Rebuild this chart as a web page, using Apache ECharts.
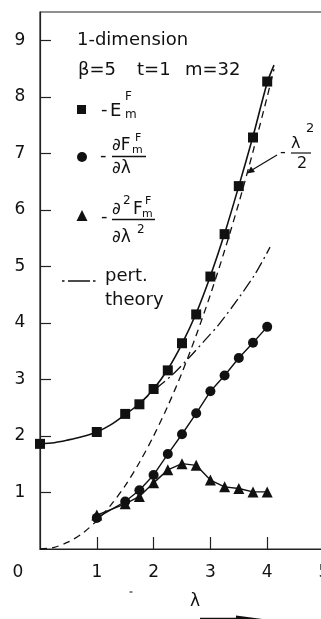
<!DOCTYPE html>
<html><head><meta charset="utf-8">
<script src="https://cdn.jsdelivr.net/npm/echarts@6/dist/echarts.min.js"></script>
<style>html,body{margin:0;padding:0;background:#fff}#c{width:321px;height:619px}</style>
</head><body><div id="c"></div>
<script>
const xTicks = [1, 2, 3, 4, 5];
const yTicks = [1, 2, 3, 4, 5, 6, 7, 8, 9];
// -E_m^F (squares)
const sqX = [0, 1, 1.5, 1.75, 2, 2.25, 2.5, 2.75, 3, 3.25, 3.5, 3.75, 4];
const sqY = [1.86, 2.07, 2.39, 2.56, 2.83, 3.16, 3.64, 4.15, 4.82, 5.57, 6.42, 7.28, 8.27];
// solid curve through the squares
const sqCurveX = [0, 0.25, 0.5, 0.75, 1, 1.25, 1.5, 1.75, 2, 2.25, 2.5, 2.75, 3, 3.25, 3.5, 3.75, 4, 4.12];
const sqCurveY = [1.86, 1.88, 1.93, 1.99, 2.07, 2.20, 2.38, 2.57, 2.83, 3.18, 3.63, 4.17, 4.83, 5.58, 6.42, 7.30, 8.25, 8.56];
// -dF/dlambda (circles)
const circX = [1, 1.5, 1.75, 2, 2.25, 2.5, 2.75, 3, 3.25, 3.5, 3.75, 4];
const circY = [0.55, 0.84, 1.04, 1.31, 1.68, 2.03, 2.40, 2.79, 3.07, 3.38, 3.65, 3.93];
// -d2F/dlambda2 (triangles)
const triX = [1, 1.5, 1.75, 2, 2.25, 2.5, 2.75, 3, 3.25, 3.5, 3.75, 4];
const triY = [0.60, 0.80, 0.93, 1.17, 1.40, 1.51, 1.48, 1.22, 1.10, 1.07, 1.01, 1.01];
// lambda^2/2 dashed curve
const halfX = [0, 0.25, 0.5, 0.75, 1, 1.25, 1.5, 1.75, 2, 2.25, 2.5, 2.75, 3, 3.25, 3.5, 3.75, 4, 4.12];
const halfY = [0, 0.03, 0.125, 0.28, 0.5, 0.78, 1.12, 1.53, 2, 2.53, 3.12, 3.78, 4.5, 5.28, 6.12, 7.03, 8, 8.49];
// perturbation theory (dash-dot)
const pertX = [1.75, 1.99, 2.35, 2.64, 2.9, 3.14, 3.49, 3.79, 4.05];
const pertY = [2.57, 2.79, 3.10, 3.40, 3.69, 3.96, 4.43, 4.87, 5.34];

const FONT = '"DejaVu Sans", sans-serif';
const INK = '#111';
const zip = (a, b) => a.map((v, i) => [v, b[i]]);

function T(text, x, y, size, align) {
  return { type: 'text', silent: true, style: { text: text, x: x, y: y, font: size + 'px ' + FONT, fill: INK, textAlign: align || 'left', textVerticalAlign: 'middle' } };
}
function L(x1, y1, x2, y2, w) {
  return { type: 'line', silent: true, shape: { x1: x1, y1: y1, x2: x2, y2: y2 }, style: { stroke: INK, lineWidth: w || 1.3 } };
}

const graphics = [
  T('1-dimension', 77, 40, 18),
  T('β=5', 78, 70, 18),
  T('t=1', 137, 70, 18),
  T('m=32', 185, 70, 18),
  // legend square
  { type: 'rect', silent: true, shape: { x: 77, y: 105, width: 9, height: 9 }, style: { fill: INK } },
  T('-', 101, 110, 18),
  T('E', 110, 111, 18),
  T('F', 125, 97, 12),
  T('m', 125, 115, 12),
  // legend circle
  { type: 'circle', silent: true, shape: { cx: 82, cy: 157, r: 5 }, style: { fill: INK } },
  T('-', 100, 156, 18),
  T('∂F', 112, 146, 17),
  T('F', 135, 138, 11),
  T('m', 132, 150, 11),
  L(112, 156.5, 146, 156.5, 1.3),
  T('∂λ', 112, 169, 17),
  // legend triangle
  { type: 'polygon', silent: true, shape: { points: [[82, 210], [76.5, 221], [87.5, 221]] }, style: { fill: INK } },
  T('-', 101, 217, 18),
  T('∂', 112, 210, 17),
  T('2', 123, 201, 12),
  T('F', 133, 210, 17),
  T('F', 145, 201, 11),
  T('m', 142, 214, 11),
  L(112, 219.5, 155, 219.5, 1.3),
  T('∂λ', 112, 238, 17),
  T('2', 137, 230, 12),
  // pert theory legend
  L(62, 281, 64.5, 281, 1.5),
  L(68, 281, 90, 281, 1.5),
  L(93, 281, 95.5, 281, 1.5),
  T('pert.', 105, 276, 18),
  T('theory', 105, 300, 18),
  // lambda^2/2 annotation
  T('-', 280, 153, 16),
  T('λ', 291, 144, 16),
  T('2', 306, 129, 13),
  L(291, 153, 311, 153, 1.2),
  T('2', 297, 164, 16),
  L(277, 155, 252, 170, 1.2),
  { type: 'polygon', silent: true, shape: { points: [[247, 173.5], [251, 166.5], [255, 172]] }, style: { fill: INK } },
  // axis extras
  T('0', 18, 573, 17, 'center'),
  T('λ', 195, 602, 17, 'center'),
  L(129.5, 592, 132.5, 592, 1),
  L(200, 618.3, 240, 618.3, 1.3),
  { type: 'polygon', silent: true, shape: { points: [[236, 615.5], [266, 619.5], [236, 623]] }, style: { fill: INK } }
];

const chart = echarts.init(document.getElementById('c'), null, { renderer: 'canvas' });
chart.setOption({
  animation: false,
  backgroundColor: '#fff',
  grid: { left: 40, right: -3, top: 12, bottom: 70, outerBoundsMode: 'none', containLabel: false,
    show: true, borderColor: '#222', borderWidth: 1.2, backgroundColor: 'transparent' },
  xAxis: {
    type: 'value', min: 0, max: 5, interval: 1,
    axisLine: { show: true, lineStyle: { color: '#222', width: 1.2 } },
    axisTick: { show: true, inside: true, length: 12, customValues: xTicks, lineStyle: { color: '#222', width: 1.2 } },
    axisLabel: { customValues: xTicks, margin: 15, fontFamily: 'DejaVu Sans', fontSize: 17, color: INK },
    splitLine: { show: false }
  },
  yAxis: {
    type: 'value', min: 0, max: 9.5, interval: 1,
    axisLine: { show: true, lineStyle: { color: '#222', width: 1.2 } },
    axisTick: { show: true, inside: true, length: 11, customValues: yTicks, lineStyle: { color: '#222', width: 1.2 } },
    axisLabel: { customValues: yTicks, margin: 20, align: 'center', fontFamily: 'DejaVu Sans', fontSize: 17, color: INK },
    splitLine: { show: false }
  },
  series: [
    { type: 'line', data: zip(halfX, halfY), smooth: 0.3, symbol: 'none',
      lineStyle: { color: INK, width: 1.3, type: [7, 5] }, z: 1 },
    { type: 'line', data: zip(pertX, pertY), smooth: 0.3, symbol: 'none',
      lineStyle: { color: INK, width: 1.3, type: [12, 4, 2, 4] }, z: 1 },
    { type: 'line', data: zip(sqCurveX, sqCurveY), smooth: 0.3, symbol: 'none',
      lineStyle: { color: INK, width: 1.6 }, z: 2 },
    { type: 'scatter', data: zip(sqX, sqY), symbol: 'rect', symbolSize: 10,
      itemStyle: { color: INK, opacity: 1 }, z: 3 },
    { type: 'line', data: zip(circX, circY), symbol: 'circle', symbolSize: 10,
      itemStyle: { color: INK }, lineStyle: { color: INK, width: 1.4 }, z: 3 },
    { type: 'line', data: zip(triX, triY), symbol: 'triangle', symbolSize: 11,
      itemStyle: { color: INK }, lineStyle: { color: INK, width: 1.4 }, z: 4 }
  ],
  graphic: graphics
});
</script>
</body></html>
